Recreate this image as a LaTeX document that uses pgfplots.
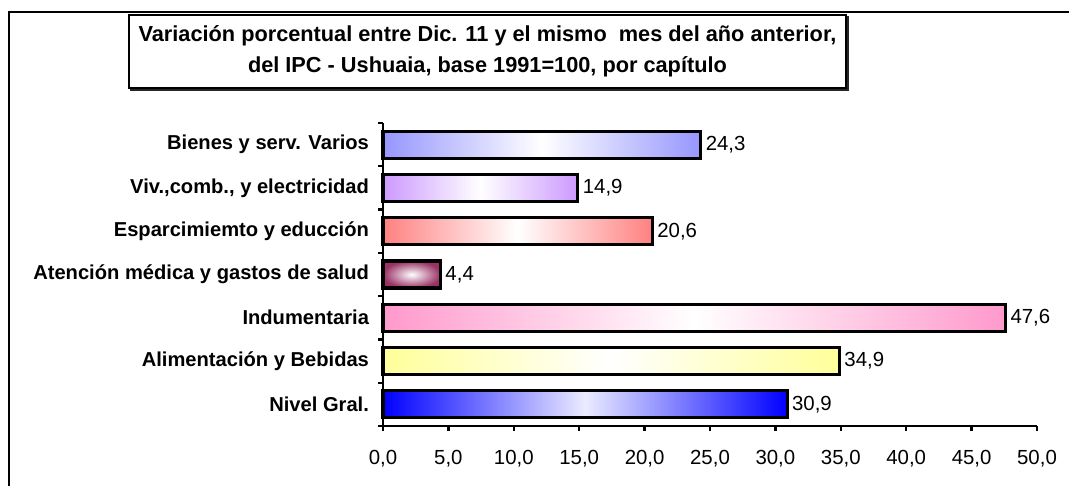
\documentclass[border=0pt]{standalone}
\usepackage{pgfplots}
\pgfplotsset{compat=1.18}
\usepackage{fontspec}
\setmainfont{Liberation Sans}
\definecolor{cBienes}{RGB}{150,150,255}
\definecolor{cViv}{RGB}{204,153,255}
\definecolor{cEsp}{RGB}{255,128,128}
\definecolor{cAte}{RGB}{153,51,102}
\definecolor{cInd}{RGB}{255,153,204}
\definecolor{cAli}{RGB}{255,255,153}
\definecolor{cNiv}{RGB}{0,0,255}
\newcommand\fs{\fontsize{15.3}{18}\selectfont}
\newcommand\fb{\fontsize{15.1}{18}\selectfont\bfseries}
\newcommand\ft{\fontsize{16.3}{19}\selectfont\bfseries}
\begin{document}
\begin{tikzpicture}
\path[use as bounding box] (0,0) rectangle (801.75pt,-363.75pt);
% outer frame
\draw[line width=2pt] (6.75pt,-380pt) -- (6.75pt,-9pt) -- (810pt,-9pt);
% title box
\draw[line width=1.8pt, black!85] (98.2pt,-12.7pt) rectangle (636pt,-67.5pt);
\draw[line width=1.6pt, fill=white] (96.75pt,-11.25pt) rectangle (634.5pt,-66pt);
\node[font=\ft, align=center, inner sep=0pt] at (365.6pt,-38.5pt)
  {Variación porcentual entre Dic. 11 y el mismo\ \ mes del año anterior,\\[4pt]
   del IPC - Ushuaia, base 1991=100, por capítulo};
\begin{axis}[
  at={(287.25pt,-319.5pt)}, anchor=south west,
  scale only axis, width=490.5pt, height=227.25pt,
  xmin=0, xmax=50, ymin=-0.5, ymax=6.5,
  enlargelimits=false, clip=false,
  axis x line=bottom, axis y line=left,
  axis line style={-, line width=2pt, black},
  xtick={0,5,...,50},
  tick align=outside,
  major tick length=3.75pt,
  tick style={line width=1.8pt, black},
  xticklabel style={font=\fs, yshift=-11pt},
  /pgf/number format/.cd, fixed, fixed zerofill, precision=1, use comma, assume math mode=true,
  /pgfplots/.cd,
  ytick={-0.5,0.5,...,6.5},
  yticklabels={},
  extra y ticks={0,1,2,3,4,5,6},
  extra y tick labels={Nivel Gral.,Alimentación y Bebidas,Indumentaria,Atención médica y gastos de salud,Esparcimiemto y educción,{Viv.,comb., y electricidad},Bienes y serv. Varios},
  extra y tick style={major tick length=0pt, yticklabel style={font=\fb, xshift=-7pt}},
  xbar, bar width=20.25pt, bar shift=0pt,
  nodes near coords,
  nodes near coords style={font=\fs, anchor=west, inner sep=2.5pt,
    /pgf/number format/.cd, fixed, fixed zerofill, precision=1, use comma, assume math mode=true},
  bs/.style={draw=black, line width=2.4pt},
]
\addplot[bs, left color=cNiv, right color=cNiv, middle color=cNiv!8] coordinates {(30.9,0)};
\addplot[bs, left color=cAli, right color=cAli, middle color=white] coordinates {(34.9,1)};
\addplot[bs, left color=cInd, right color=cInd, middle color=white] coordinates {(47.6,2)};
\addplot[bs, inner color=white, outer color=cAte] coordinates {(4.4,3)};
\addplot[bs, left color=cEsp, right color=cEsp, middle color=white] coordinates {(20.6,4)};
\addplot[bs, left color=cViv, right color=cViv, middle color=white] coordinates {(14.9,5)};
\addplot[bs, left color=cBienes, right color=cBienes, middle color=white] coordinates {(24.3,6)};
\end{axis}
\end{tikzpicture}
\end{document}
